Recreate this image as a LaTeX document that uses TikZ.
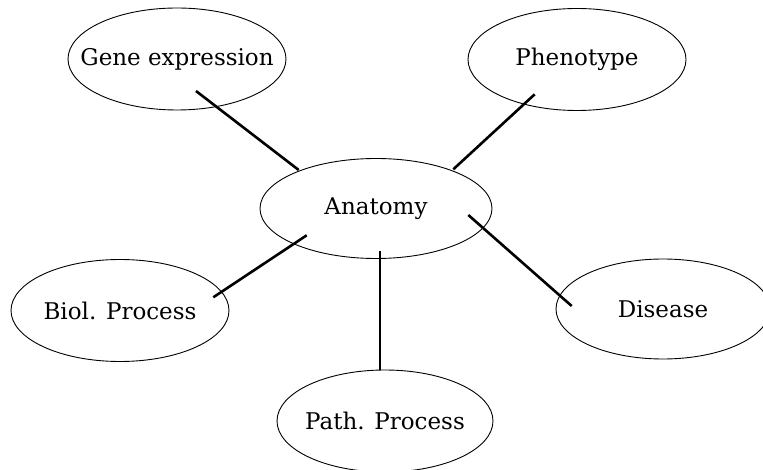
\documentclass[tikz,border=0pt]{standalone}
\usepackage{fontspec}
\setmainfont{DejaVu Serif}
\usetikzlibrary{shapes.geometric}

\tikzset{
	topic/.style={draw, ellipse, line width=0.9pt, inner xsep=-120pt, inner ysep=0pt,
		minimum width=218pt, minimum height=102pt,
		font=\fontsize{23}{27}\selectfont},
	link/.style={line width=2.6pt}
}

\begin{document}
\begin{tikzpicture}[x=1pt, y=-1pt]
	\useasboundingbox (0,0) rectangle (763,470);

	\node[topic] (gene) at (177,59) {Gene expression};
	\node[topic] (pheno) at (577,59.5) {Phenotype};
	\node[topic, minimum width=232pt, minimum height=100pt] (anat) at (376,208.5) {Anatomy};
	\node[topic] (biol) at (120,310.5) {Biol. Process};
	\node[topic, minimum width=214pt, minimum height=100pt] (dis) at (663,309) {Disease};
	\node[topic, minimum width=216pt] (path) at (385,421) {Path. Process};

	\draw[link] ([shift={(19,32)}]gene.center) -- ([shift={(-77.3,-38.5)}]anat.center);
	\draw[link] ([shift={(-42.3,34.8)}]pheno.center) -- ([shift={(77.3,-39.2)}]anat.center);
	\draw[link] ([shift={(-69.3,26.8)}]anat.center) -- ([shift={(93.3,-13.2)}]biol.center);
	\draw[link] ([shift={(92.3,6.5)}]anat.center) -- ([shift={(-91.3,-3)}]dis.center);
	\draw[link] ([shift={(4,42.5)}]anat.center) -- ([shift={(-5,-51)}]path.center);
\end{tikzpicture}
\end{document}
